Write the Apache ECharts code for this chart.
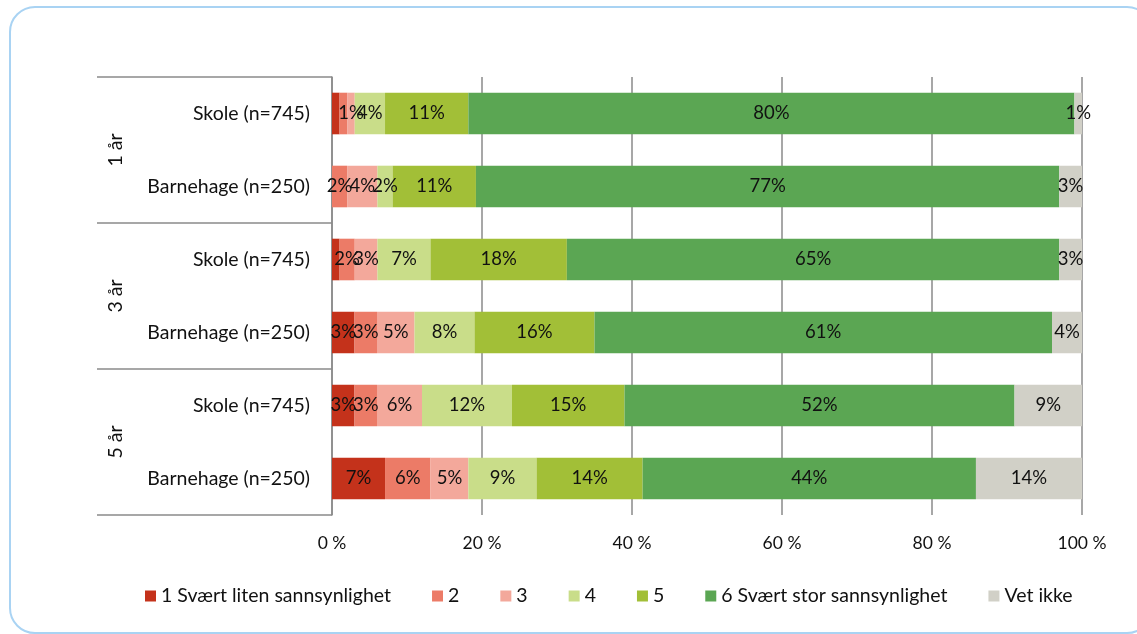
<!DOCTYPE html>
<html>
<head>
<meta charset="utf-8">
<script src="https://cdn.jsdelivr.net/npm/echarts@6/dist/echarts.min.js"></script>
<style>
  html, body { margin: 0; padding: 0; background: #fff; }
  #main { width: 1137px; height: 634px; }
  .frame {
    position: absolute; left: 9px; top: 6px; width: 1140px; height: 624px;
    border: 2px solid #a9d3f3; border-radius: 26px; pointer-events: none;
  }
</style>
</head>
<body>
<div id="main"></div>
<div class="frame"></div>
<script>
// rader (ovenfra og ned)
const rows = ['Skole (n=745)', 'Barnehage (n=250)', 'Skole (n=745)', 'Barnehage (n=250)', 'Skole (n=745)', 'Barnehage (n=250)'];
const groups = ['1 år', '3 år', '5 år'];
const names = ['1 Svært liten sannsynlighet', '2', '3', '4', '5', '6 Svært stor sannsynlighet', 'Vet ikke'];
const colors = ['#c4321b', '#ec7b67', '#f3a89b', '#c9dd89', '#a2bf37', '#5ba653', '#d1d0c7'];

// prosent per svaralternativ
const v1 = [1, 0, 1, 3, 3, 7];
const v2 = [1, 2, 2, 3, 3, 6];
const v3 = [1, 4, 3, 5, 6, 5];
const v4 = [4, 2, 7, 8, 12, 9];
const v5 = [11, 11, 18, 16, 15, 14];
const v6 = [80, 77, 65, 61, 52, 44];
const vVet = [1, 3, 3, 4, 9, 14];
const values = [v1, v2, v3, v4, v5, v6, vVet];

const xTicks = [0, 20, 40, 60, 80, 100];

// 100 % stablet: skaler hver rad til summen
const sums = rows.map((r, i) => values.reduce((s, arr) => s + arr[i], 0));

const font = 'Lato, "Open Sans", sans-serif';
const gray = '#8a8a8a';

let chart = echarts.init(document.getElementById('main'));
chart.setOption({
  animation: false,
  textStyle: { fontFamily: font },
  grid: { left: 332, right: 55, top: 77, bottom: 119 },
  legend: {
    top: 581,
    left: 140,
    icon: 'rect',
    itemWidth: 11,
    itemHeight: 11,
    itemGap: 41,
    textStyle: { fontSize: 19.5, color: '#111', fontFamily: font },
    data: names
  },
  xAxis: {
    type: 'value',
    min: xTicks[0],
    max: xTicks[xTicks.length - 1],
    interval: 20,
    axisLine: { show: false },
    axisTick: { show: false },
    splitLine: { show: true, lineStyle: { color: gray, width: 1.5 } },
    axisLabel: { formatter: '{value} %', fontSize: 17.5, color: '#111', margin: 19 }
  },
  yAxis: [
    {
      type: 'category',
      inverse: true,
      data: rows,
      axisLine: { show: true, lineStyle: { color: gray, width: 1.5 } },
      axisTick: { show: false },
      axisLabel: { fontSize: 19.5, color: '#111', margin: 22 }
    },
    {
      type: 'category',
      inverse: true,
      position: 'left',
      data: groups,
      axisLine: { show: false },
      axisTick: { show: true, length: 235, lineStyle: { color: gray, width: 1.5 } },
      axisLabel: { rotate: 90, fontSize: 19.5, color: '#111', margin: 206 }
    }
  ],
  series: values.map((arr, k) => ({
    name: names[k],
    type: 'bar',
    stack: 'total',
    yAxisIndex: 0,
    barWidth: '57%',
    itemStyle: { color: colors[k] },
    label: {
      show: true,
      position: 'inside',
      fontSize: 18.5,
      color: '#111',
      formatter: p => {
        const raw = arr[p.dataIndex];
        if (raw === 0 || (k < 2 && raw < 2)) return '';
        return raw + '%';
      }
    },
    data: arr.map((v, i) => v / sums[i] * 100)
  }))
});
</script>
</body>
</html>
